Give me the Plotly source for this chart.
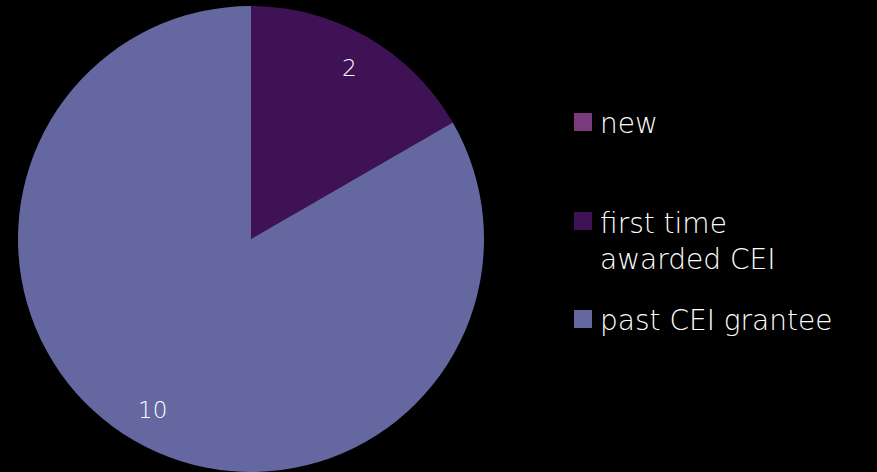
import math
import plotly.graph_objects as go

labels = ["new", "first time<br>awarded CEI", "past CEI grantee"]
values = [0, 2, 10]
colors = ["#7a3a7c", "#3f1256", "#6567a0"]

W, H = 877, 472
FONT = "DejaVu Sans"
CX, CY, R = 251, 239, 233

fig = go.Figure()
fig.add_trace(go.Pie(
    labels=labels,
    values=values,
    sort=False,
    direction="clockwise",
    rotation=0,
    marker=dict(colors=colors, line=dict(width=0)),
    textinfo="none",
    showlegend=False,
    hoverinfo="label+value",
    domain=dict(x=[(CX - R) / W, (CX + R) / W], y=[0, 466 / H]),
))

# value labels placed near the rim along each slice's mid-angle
total = sum(values)
cum = 0
for v in values:
    if v > 0:
        mid = (cum + v / 2) / total * 2 * math.pi
        r = 0.845 * R
        px = CX + r * math.sin(mid)
        py = CY - r * math.cos(mid)
        fig.add_annotation(xref="paper", yref="paper", x=px / W, y=1 - py / H,
                           xanchor="center", yanchor="middle",
                           text=str(v), showarrow=False,
                           font=dict(family=FONT, size=23, color="white", weight=300))
    cum += v

# legend drawn manually (irregular spacing in reference)
legend_y = [122, 221, 319]
for lab, col, yc in zip(labels, colors, legend_y):
    fig.add_shape(type="rect", xref="paper", yref="paper",
                  x0=574 / W, x1=592 / W, y0=1 - (yc + 9) / H, y1=1 - (yc - 9) / H,
                  fillcolor=col, line=dict(width=0))
    nlines = lab.count("<br>") + 1
    fig.add_annotation(xref="paper", yref="paper", x=598 / W,
                       y=1 - (yc - 16) / H if nlines > 1 else 1 - (yc + 1) / H,
                       yanchor="top" if nlines > 1 else "middle",
                       xanchor="left", align="left", showarrow=False,
                       text=lab, font=dict(family=FONT, size=28, color="white", weight=300))

fig.update_layout(
    width=W, height=H,
    margin=dict(l=0, r=0, t=0, b=0),
    paper_bgcolor="black", plot_bgcolor="black",
)

fig.write_html(
    "out.html",
    config={"displayModeBar": False},
    post_script="document.body.style.margin='0';document.body.style.background='black';",
)
